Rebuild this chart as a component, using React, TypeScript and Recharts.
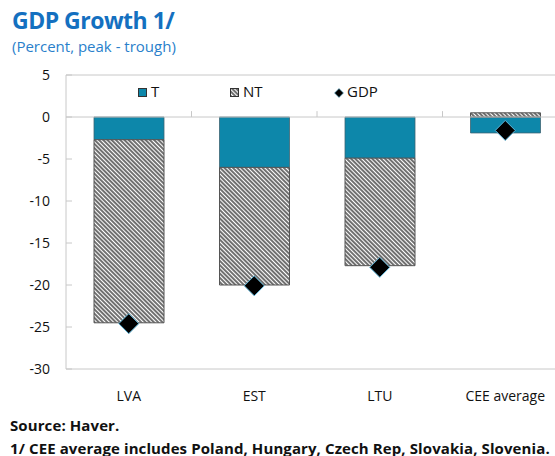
import React from 'react';
import { ComposedChart, Bar, Scatter, XAxis, YAxis, ReferenceLine } from 'recharts';

const categories = ['LVA', 'EST', 'LTU', 'CEE average'];
const tradable = [-2.7, -6.0, -4.9, -1.9];
const nonTradable = [-21.8, -14.0, -12.8, 0.5];
const gdp = [-24.6, -20.1, -17.9, -1.6];
const yTicks = [-30, -25, -20, -15, -10, -5, 0, 5];

const data = categories.map((c, i) => ({ name: c, T: tradable[i], NT: nonTradable[i], GDP: gdp[i] }));

const Diamond = (props: any) => {
  const { cx, cy } = props;
  const r = 10;
  return (
    <path
      d={`M${cx},${cy - r}L${cx + r},${cy}L${cx},${cy + r}L${cx - r},${cy}Z`}
      fill="#000"
      stroke="#5fb6d9"
      strokeWidth={1}
    />
  );
};

const FONT = '"Open Sans", "Noto Sans", sans-serif';

export default function App() {
  return (
    <div style={{ position: 'absolute', left: 0, top: 0, width: 555, height: 456, overflow: 'hidden', background: '#fff', fontFamily: FONT }}>
      <svg width={0} height={0} style={{ position: 'absolute' }}>
        <defs>
          <pattern id="hatch" patternUnits="userSpaceOnUse" width={3} height={3} patternTransform="rotate(-45)">
            <rect x={0} y={0} width={3} height={3} fill="#fff" />
            <line x1={1} y1={-1} x2={1} y2={4} stroke="#333" strokeWidth={1.4} />
          </pattern>
        </defs>
      </svg>
      <div style={{ position: 'absolute', left: 12, top: 8, fontSize: 23, lineHeight: '24px', fontWeight: 700, color: '#1470c0', whiteSpace: 'nowrap', letterSpacing: -0.5 }}>
        GDP Growth 1/
      </div>
      <div style={{ position: 'absolute', left: 12, top: 37, fontSize: 15, lineHeight: '18px', color: '#2a7fcb', whiteSpace: 'nowrap' }}>
        (Percent, peak - trough)
      </div>
      <div style={{ position: 'absolute', left: 0, top: 0 }}>
        <ComposedChart
          width={575}
          height={456}
          data={data}
          stackOffset="sign"
          margin={{ top: 75, right: 7, bottom: 57, left: 0 }}
        >
          <XAxis
            dataKey="name"
            axisLine={{ stroke: '#c8c8c8' }}
            tickLine={false}
            tickMargin={16}
            tick={{ fill: '#111', fontSize: 14, fontFamily: FONT }}
            interval={0}
          />
          <YAxis
            width={66}
            domain={[-30, 5]}
            ticks={yTicks}
            type="number"
            axisLine={{ stroke: '#c8c8c8' }}
            tickLine={{ stroke: '#c8c8c8' }}
            tickSize={-6}
            tickMargin={22}
            tick={{ fill: '#111', fontSize: 14, fontFamily: FONT }}
            allowDataOverflow
          />
          <ReferenceLine y={5} stroke="#c8c8c8" />
          <Bar dataKey="T" stackId="a" fill="#0d87aa" stroke="#3d6573" strokeWidth={0.8} barSize={70} isAnimationActive={false} />
          <Bar dataKey="NT" stackId="a" fill="url(#hatch)" stroke="#555" strokeWidth={1} barSize={70} isAnimationActive={false} />
          <ReferenceLine y={0} stroke="#c8c8c8" />
          <ReferenceLine segment={[{ x: 'EST', y: 0 }, { x: 'EST', y: 0.7 }]} position="start" stroke="#c8c8c8" />
          <ReferenceLine segment={[{ x: 'LTU', y: 0 }, { x: 'LTU', y: 0.7 }]} position="start" stroke="#c8c8c8" />
          <ReferenceLine segment={[{ x: 'CEE average', y: 0 }, { x: 'CEE average', y: 0.7 }]} position="start" stroke="#c8c8c8" />
          <Scatter dataKey="GDP" shape={<Diamond />} isAnimationActive={false} />
        </ComposedChart>
      </div>
      {/* Legend */}
      <div style={{ position: 'absolute', left: 138, top: 88, width: 7, height: 7, background: '#0d87aa', border: '1px solid #333' }} />
      <div style={{ position: 'absolute', left: 151, top: 81, fontSize: 15, lineHeight: '20px', color: '#111' }}>T</div>
      <svg style={{ position: 'absolute', left: 230, top: 88 }} width={9} height={9}>
        <rect x={0.5} y={0.5} width={8} height={8} fill="url(#hatch)" stroke="#333" strokeWidth={1} />
      </svg>
      <div style={{ position: 'absolute', left: 243, top: 81, fontSize: 15, lineHeight: '20px', color: '#111' }}>NT</div>
      <svg style={{ position: 'absolute', left: 334, top: 88 }} width={10} height={10}>
        <path d="M5,0.5L9.5,5L5,9.5L0.5,5Z" fill="#000" stroke="#5fb6d9" strokeWidth={0.6} />
      </svg>
      <div style={{ position: 'absolute', left: 347, top: 81, fontSize: 15, lineHeight: '20px', color: '#111' }}>GDP</div>
      {/* Footnotes */}
      <div style={{ position: 'absolute', left: 10, top: 417, fontSize: 15, lineHeight: '16px', fontWeight: 700, color: '#111', whiteSpace: 'nowrap', letterSpacing: 0.1 }}>
        Source: Haver.
      </div>
      <div style={{ position: 'absolute', left: 10, top: 440, fontSize: 15, lineHeight: '16px', fontWeight: 700, color: '#111', whiteSpace: 'nowrap', letterSpacing: 0.1 }}>
        1/ CEE average includes Poland, Hungary, Czech Rep, Slovakia, Slovenia.
      </div>
    </div>
  );
}
